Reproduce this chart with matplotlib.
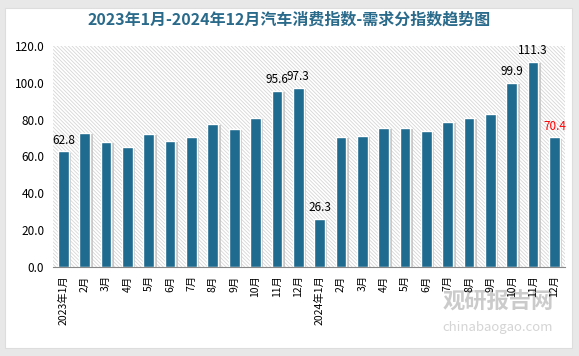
import numpy as np
import matplotlib.pyplot as plt
from matplotlib.patches import Rectangle

plt.rcParams['font.family'] = ['Noto Sans CJK SC', 'DejaVu Sans']
plt.rcParams['hatch.linewidth'] = 0.6

# Data
months = ['2023年1月', '2月', '3月', '4月', '5月', '6月', '7月', '8月', '9月', '10月', '11月', '12月',
          '2024年1月', '2月', '3月', '4月', '5月', '6月', '7月', '8月', '9月', '10月', '11月', '12月']
values = [62.8, 72.9, 68.0, 65.3, 72.3, 68.5, 70.7, 77.8, 75.0, 81.0, 95.6, 97.3,
          26.3, 70.7, 71.2, 75.6, 75.6, 74.0, 78.8, 81.0, 83.2, 99.9, 111.3, 70.4]
labelled = {0: 'black', 10: 'black', 11: 'black', 12: 'black', 21: 'black', 22: 'black', 23: 'red'}

fig = plt.figure(figsize=(5.79, 3.56), dpi=100)
fig.patch.set_facecolor('#e8e8e8')
fig.patches.append(Rectangle((5 / 579, 8 / 356), 567 / 579, 340 / 356, transform=fig.transFigure,
                             facecolor='white', edgecolor='#dddddd', linewidth=0.8, zorder=-5))

ax = fig.add_axes([0.091, 0.25, 0.885, 0.621])
ax.set_facecolor('none')
x = np.arange(len(values))

# hatched background
ax.add_patch(Rectangle((-0.5, 0), len(values), 120, facecolor='white', edgecolor='#d6d6d6',
                       hatch='\\' * 9, linewidth=0, zorder=0))

# shadow + bars
ax.bar(x + 0.12, np.array(values) - 0.8, width=0.5, bottom=0, color='#b9b9b9', alpha=0.7, zorder=1)
ax.bar(x, values, width=0.5, color='#1e6b8f', edgecolor='white', linewidth=1.0, zorder=2)

for i, c in labelled.items():
    ax.text(x[i], values[i] + 2.5, f'{values[i]:.1f}', ha='center', va='bottom', fontsize=8.5,
            color=c, zorder=3)

ax.set_xlim(-0.5, len(values) - 0.5)
ax.set_ylim(0, 120)
ax.set_yticks(np.arange(0, 121, 20))
ax.set_yticklabels([f'{v:.1f}' for v in np.arange(0, 121, 20)], fontsize=8.5)
ax.set_xticks(x)
ax.set_xticklabels(months, rotation=90, fontsize=7.5)
ax.tick_params(length=0, pad=6)
for s in ['top', 'right', 'left']:
    ax.spines[s].set_visible(False)
ax.spines['bottom'].set_color('#888888')

fig.text(0.5, 0.944, '2023年1月-2024年12月汽车消费指数-需求分指数趋势图', ha='center', va='center',
         fontsize=11.5, fontweight='bold', color='#2a6a8a')

# watermark
fig.text(0.86, 0.15, '观研报告网', ha='center', va='center', fontsize=16, fontweight='bold',
         color='#999999', alpha=0.5, zorder=-1)
fig.text(0.86, 0.08, 'chinabaogao.com', ha='center', va='center', fontsize=9.5,
         color='#aaaaaa', alpha=0.5, zorder=-1)

fig.savefig('out.png', dpi=100)
